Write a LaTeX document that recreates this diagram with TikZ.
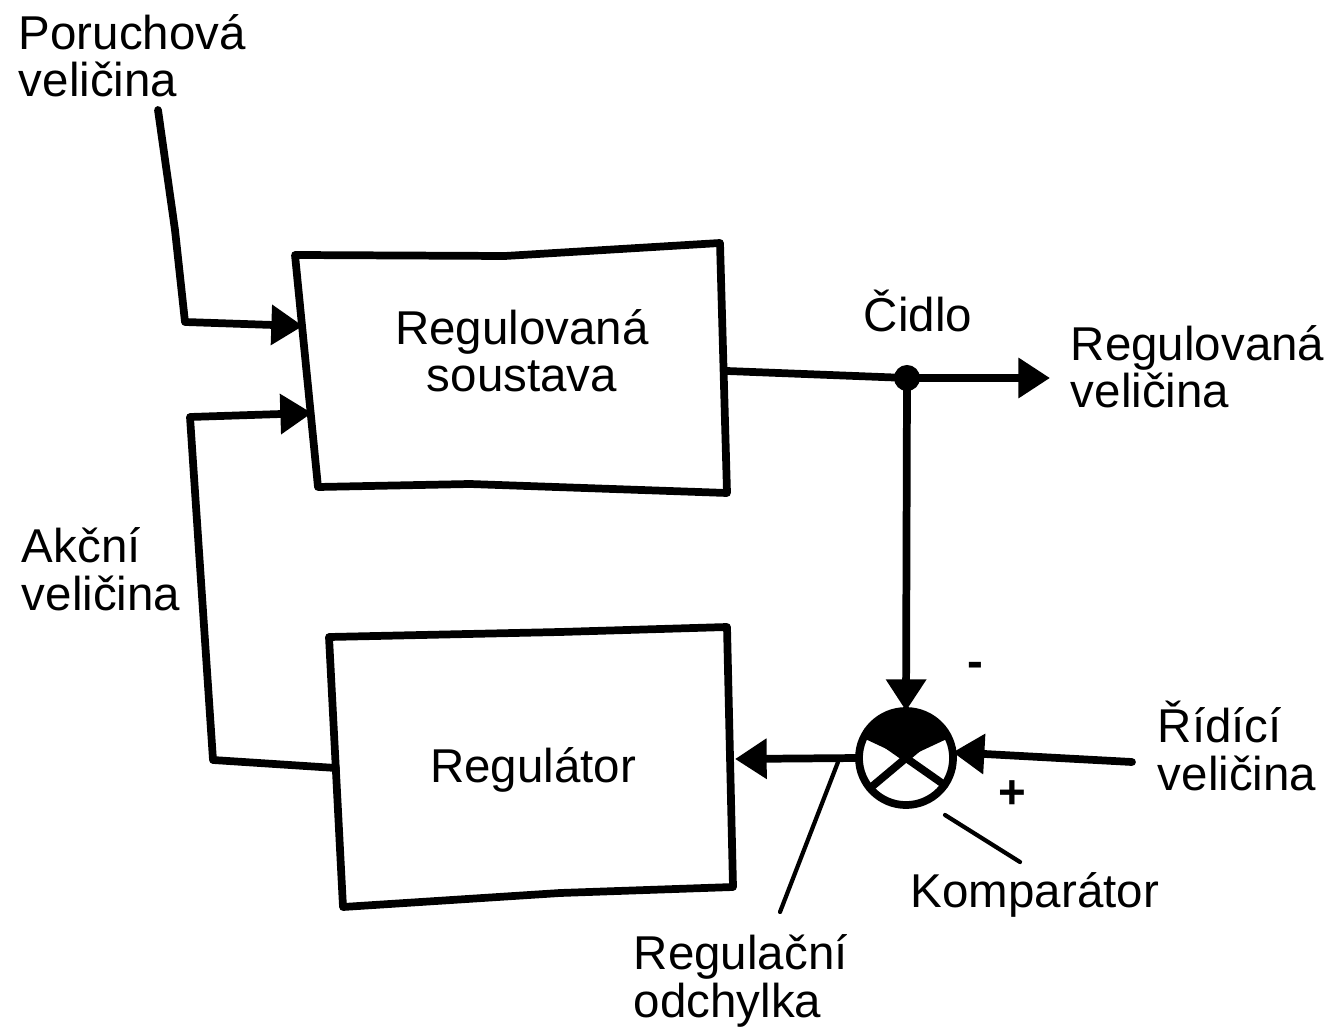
\documentclass[tikz,border=0pt]{standalone}
\usepackage{fontspec}
\setmainfont{Liberation Sans}
\usetikzlibrary{arrows.meta,positioning,calc}

\begin{document}
\begin{tikzpicture}[
  x=0.01cm, y=-0.01cm,
  line width=2.2pt, line join=round, line cap=round,
  lbl/.style={font=\fontsize{13.5}{13.5}\selectfont, align=left, inner sep=0pt, anchor=base west},
  blocktext/.style={font=\fontsize{13.5}{13.5}\selectfont, align=center, inner sep=0pt, anchor=base},
  sign/.style={font=\fontsize{13.5}{13.5}\selectfont\bfseries, inner sep=0pt},
  arrow/.style={-{Triangle[length=9pt, width=11pt]}},
  leader/.style={line width=1.2pt}
]
\useasboundingbox (0,0) rectangle (1328,1028);

% hand drawn blocks
\coordinate (sysTL) at (295,255);
\coordinate (sysT)  at (505,256);
\coordinate (sysTR) at (720,243);
\coordinate (sysBR) at (727,493);
\coordinate (sysB)  at (470,484);
\coordinate (sysBL) at (318,487);
\draw (sysTL) -- (sysT) -- (sysTR) -- (sysBR) -- (sysB) -- (sysBL) -- cycle;
\node[blocktext] (systext) at (522,392) {Regulovaná\\soustava};

\coordinate (regTL) at (329,637);
\coordinate (regT)  at (560,632);
\coordinate (regTR) at (727,627);
\coordinate (regBR) at (733,887);
\coordinate (regB)  at (560,893);
\coordinate (regBL) at (343,907);
\draw (regTL) -- (regT) -- (regTR) -- (regBR) -- (regB) -- (regBL) -- cycle;
\node[blocktext] (regtext) at (533,782) {Regulátor};

% comparator
\node[circle, draw, minimum size=0.94cm, inner sep=0pt, outer sep=0pt] (cmp) at (906,758) {};
\begin{scope}
  \clip (cmp.center) circle[radius=0.47cm];
  \fill (cmp.center) -- ($(cmp.center)!2!(cmp.25)$) -- ($(cmp.center)!2!(cmp.90)$) -- ($(cmp.center)!2!(cmp.155)$) -- cycle;
\end{scope}
\draw (cmp.40) -- (cmp.220);
\draw (cmp.145) -- (cmp.-35);
\node[sign] (minus) at (975,670) {-};
\node[sign] (plus) at (1012,795) {+};

% labels
\node[lbl] (poruch) at (15,97) {Poruchová\\veličina};
\node[lbl] (akcni) at (18,610) {Akční\\veličina};
\node[lbl] (cidlo) at (860,332) {Čidlo};
\node[lbl] (regvel) at (1067,408) {Regulovaná\\veličina};
\node[lbl] (ridici) at (1154,790) {Řídící\\veličina};
\node[lbl] (kompar) at (907,907) {Komparátor};
\node[lbl] (odch) at (630,1017) {Regulační\\odchylka};

% connector ends
\coordinate (pin) at (158,110);
\coordinate (sysin1) at (303,326);
\coordinate (sysin2) at (312,413);
\coordinate (sysout) at (727,371);
\coordinate (outend) at (1050,378);
\coordinate (regout) at (336,768);
\coordinate (regin) at (735,759);
\coordinate (rin) at (1132,762);
\node[circle, fill, inner sep=0pt, minimum size=0.26cm] (dot) at (907,378) {};

\draw[arrow] (pin) -- (175,230) -- (185,322) -- (sysin1);
\draw[arrow] (regout) -- (213,760) -- (190,417) -- (sysin2);
\draw (sysout) -- (dot.center);
\draw[arrow] (dot.center) -- (outend);
\draw[arrow] (dot.center) -- (cmp.north);
\draw[arrow] (rin) -- (cmp.7);
\draw[arrow] (cmp.west) -- (regin);

% leaders
\coordinate (odchtop) at (838,762);
\coordinate (odchbot) at (780,912);
\coordinate (kompin) at (945,815);
\coordinate (kompout) at (1020,862);
\draw[leader] (odchtop) -- (odchbot);
\draw[leader] (kompin) -- (kompout);
\end{tikzpicture}
\end{document}
